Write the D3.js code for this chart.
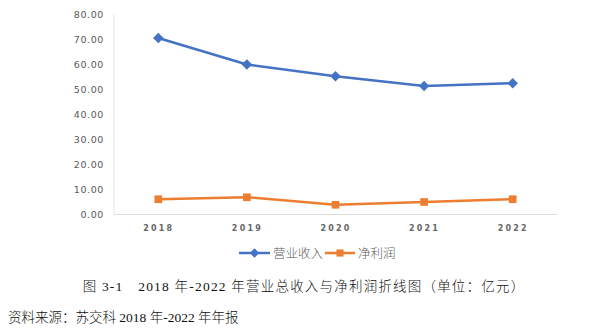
<!DOCTYPE html>
<html>
<head>
<meta charset="utf-8">
<script src="https://cdn.jsdelivr.net/npm/d3@7/dist/d3.min.js"></script>
<style>
  html, body { margin: 0; padding: 0; background: #fff; }
  svg { display: block; }
</style>
</head>
<body>
<svg id="chart" width="609" height="328"></svg>
<script>
// Years on the x axis
const years = ["2018", "2019", "2020", "2021", "2022"];
// 营业收入 (亿元)
const revenue = [70.6, 60.0, 55.3, 51.4, 52.5];
// 净利润 (亿元)
const netProfit = [6.1, 6.9, 3.9, 5.0, 6.1];
// Y axis tick values
const yTicks = [0, 10, 20, 30, 40, 50, 60, 70, 80];
const seriesNames = ["营业收入", "净利润"];
const seriesColors = ["#4472C4", "#ED7D31"];

const svg = d3.select("#chart");
const plot = { left: 114, right: 557, top: 14.5, bottom: 214.5 };

const x = d3.scalePoint().domain(years).range([plot.left, plot.right]).padding(0.5);
const y = d3.scaleLinear().domain([0, 80]).range([plot.bottom, plot.top]);

// Axis frame: light left and bottom lines
svg.append("line")
  .attr("x1", plot.left).attr("x2", plot.left)
  .attr("y1", plot.top).attr("y2", plot.bottom)
  .attr("stroke", "#e4e4e4").attr("stroke-width", 1);
svg.append("line")
  .attr("x1", plot.left).attr("x2", plot.right)
  .attr("y1", plot.bottom).attr("y2", plot.bottom)
  .attr("stroke", "#dedede").attr("stroke-width", 1);

// Y axis labels
const yAxis = d3.axisLeft(y).tickValues(yTicks).tickFormat(d3.format(".2f")).tickSize(0).tickPadding(10);
const gy = svg.append("g").attr("transform", `translate(${plot.left},0)`).call(yAxis);
gy.select(".domain").remove();
gy.selectAll("text")
  .attr("fill", "#595959")
  .style("font-family", "'DejaVu Sans', sans-serif")
  .style("font-size", "9.5px")
  .style("letter-spacing", "0.6px");

// X axis labels
const xAxis = d3.axisBottom(x).tickSize(0).tickPadding(11);
const gx = svg.append("g").attr("transform", `translate(0,${plot.bottom})`).call(xAxis);
gx.select(".domain").remove();
gx.selectAll("text")
  .attr("fill", "#666")
  .style("font-family", "'DejaVu Sans', sans-serif")
  .style("font-size", "8px")
  .style("font-weight", "bold")
  .style("letter-spacing", "2.2px");

const line = d3.line().x((d, i) => x(years[i])).y(d => y(d));

function drawSeries(values, color, symbolType, size) {
  svg.append("path")
    .datum(values)
    .attr("d", line)
    .attr("fill", "none")
    .attr("stroke", color)
    .attr("stroke-width", 2.5)
    .attr("stroke-linejoin", "round");
  svg.append("g").selectAll("path")
    .data(values)
    .join("path")
    .attr("transform", (d, i) => `translate(${x(years[i])},${y(d)})`)
    .attr("d", d3.symbol().type(symbolType).size(size))
    .attr("fill", color);
}

drawSeries(revenue, seriesColors[0], d3.symbolDiamond2, 70);
drawSeries(netProfit, seriesColors[1], d3.symbolSquare2, 75);

// Legend
const legend = svg.append("g").attr("transform", "translate(0,253)");
const legendItems = [
  { x0: 239, x1: 270, name: seriesNames[0], color: seriesColors[0], type: d3.symbolDiamond2, size: 55 },
  { x0: 325, x1: 355, name: seriesNames[1], color: seriesColors[1], type: d3.symbolSquare2, size: 65 }
];
legendItems.forEach(it => {
  legend.append("line")
    .attr("x1", it.x0).attr("x2", it.x1).attr("y1", 0).attr("y2", 0)
    .attr("stroke", it.color).attr("stroke-width", 2.5);
  legend.append("path")
    .attr("transform", `translate(${(it.x0 + it.x1) / 2},0)`)
    .attr("d", d3.symbol().type(it.type).size(it.size))
    .attr("fill", it.color);
  legend.append("text")
    .attr("x", it.x1 + 3).attr("y", 4.5)
    .attr("fill", "#595959")
    .style("font-family", "'Noto Sans CJK SC', sans-serif")
    .style("font-weight", "300")
    .style("font-size", "12.5px")
    .text(it.name);
});

// Figure caption and source note
svg.append("text")
  .attr("x", 304).attr("y", 291)
  .attr("text-anchor", "middle")
  .attr("fill", "#111")
  .style("font-family", "'Liberation Serif', 'Noto Sans CJK SC', serif")
  .style("font-weight", "300")
  .style("font-size", "13.5px")
  .style("letter-spacing", "1.2px")
  .text("图 3-1　2018 年-2022 年营业总收入与净利润折线图（单位：亿元）");

svg.append("text")
  .attr("x", 8).attr("y", 322)
  .attr("fill", "#111")
  .style("font-family", "'Liberation Serif', 'Noto Sans CJK SC', serif")
  .style("font-weight", "300")
  .style("font-size", "13.5px")
  .text("资料来源：苏交科 2018 年-2022 年年报");
</script>
</body>
</html>
